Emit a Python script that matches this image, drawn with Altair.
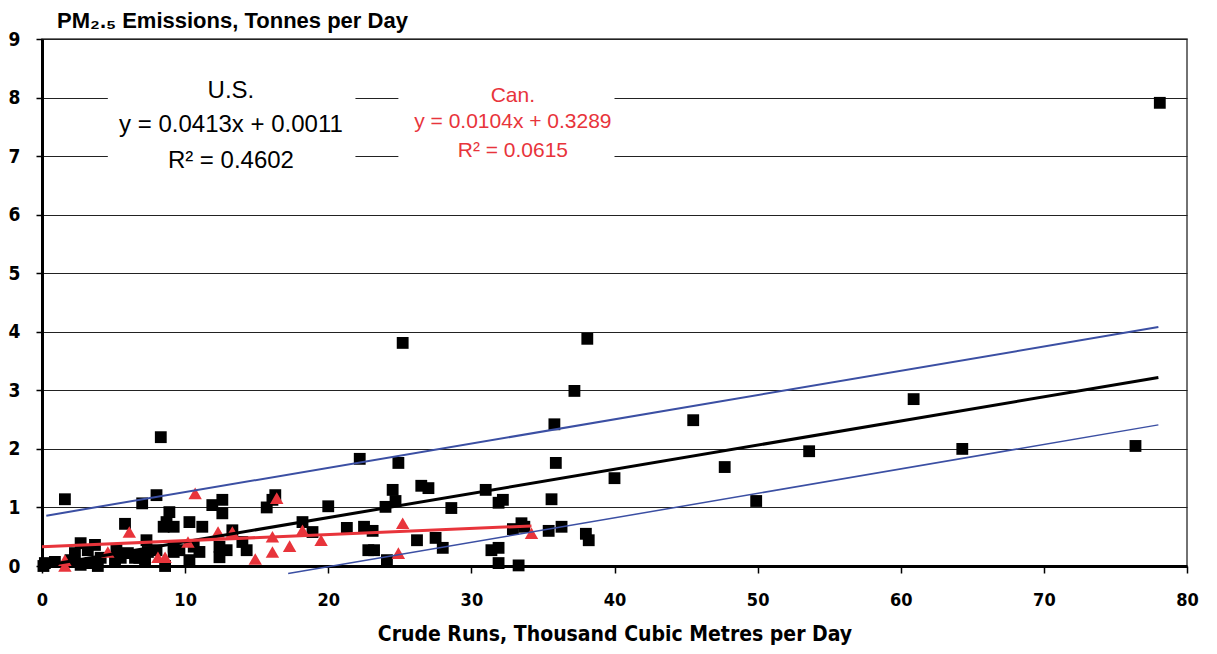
import altair as alt
import pandas as pd

# U.S. refineries (black squares)
us_x = [78.1, 76.4, 64.3, 60.9, 53.6, 49.9, 47.7, 45.5, 40.0, 38.1, 37.2, 35.8, 35.9, 35.6, 36.3, 35.4, 38.0, 38.2,
        25.2, 24.9, 22.2, 20.0, 24.5, 24.7, 24.0, 26.5, 27.0, 28.6, 31.0, 31.9, 32.2, 18.2, 18.9, 21.3, 22.5, 23.1,
        22.8, 23.2, 24.1, 26.2, 27.5, 28.0, 31.4, 31.9, 31.9, 33.3, 32.9, 33.5, 33.7, 8.3, 1.6, 8.0, 7.0, 11.9,
        12.6, 12.6, 16.3, 16.1, 15.7, 8.9, 8.7, 9.2, 8.5, 10.3, 11.2, 13.3, 7.3, 7.4, 9.2, 9.2, 10.6, 11.0, 10.3,
        12.4, 12.4, 12.9, 14.0, 14.3, 8.6, 6.8, 8.0, 5.8, 2.7, 3.7, 5.2, 6.0, 6.7, 0.2, 0.9, 2.0, 2.7, 3.4, 3.9,
        5.1, 2.3, 3.2, 4.1, 5.5, 6.5, 7.2, 0.1, 9.6]
us_y = [7.91, 2.05, 2.00, 2.85, 1.96, 1.11, 1.69, 2.49, 1.50, 3.88, 2.99, 2.42, 1.76, 1.14, 0.67, 0.60, 0.55, 0.44,
        3.81, 1.76, 1.83, 1.02, 1.30, 1.11, 1.01, 1.37, 1.33, 0.99, 1.30, 1.08, 1.13, 0.75, 0.58, 0.65, 0.67, 0.60,
        0.27, 0.27, 0.10, 0.44, 0.48, 0.31, 0.27, 0.31, 0.05, 0.01, 0.63, 0.73, 0.67, 2.20, 1.14, 1.21, 1.07, 1.04,
        1.13, 0.90, 1.21, 1.13, 1.00, 0.92, 0.75, 0.67, 0.67, 0.75, 0.67, 0.61, 0.44, 0.24, 0.33, 0.24, 0.33, 0.24, 0.10,
        0.33, 0.15, 0.27, 0.41, 0.27, 0.00, 0.14, 0.27, 0.72, 0.39, 0.36, 0.27, 0.22, 0.19, 0.05, 0.07, 0.10, 0.02, 0.05, 0.00,
        0.07, 0.22, 0.27, 0.14, 0.14, 0.14, 0.07, 0.00, 0.27]

# Canadian refineries (red triangles)
can_x = [10.7, 16.4, 12.3, 13.3, 10.2, 8.1, 8.6, 14.9, 16.1, 16.1, 17.3, 18.2, 19.5, 25.2, 24.9, 34.2, 6.1, 4.6, 1.6, 1.6]
can_y = [1.24, 1.16, 0.58, 0.58, 0.41, 0.15, 0.15, 0.12, 0.50, 0.24, 0.34, 0.61, 0.44, 0.73, 0.22, 0.56, 0.58, 0.24, 0.10, 0.00]

# Trend lines (end points)
us_fit_x = [0, 78]
us_fit_y = [0.0011, 3.22]
upper_x = [0.3, 78]
upper_y = [0.86, 4.08]
lower_x = [17.2, 78]
lower_y = [-0.13, 2.41]
can_fit_x = [0, 34.2]
can_fit_y = [0.3289, 0.685]

# Annotation text
us_lines = ["U.S.", "y = 0.0413x + 0.0011", "R\u00b2 = 0.4602"]
us_line_y = [8.11, 7.53, 6.92]
can_lines = ["Can.", "y = 0.0104x + 0.3289", "R\u00b2 = 0.0615"]
can_line_y = [8.03, 7.58, 7.09]

RED = "#E8343B"
BLUE = "#3B4FA3"
FONT = "Liberation Sans"
NARROW = "DejaVu Sans Condensed, Liberation Sans, sans-serif"

xs = alt.Scale(domain=[0, 80], nice=False, zero=False)
ys = alt.Scale(domain=[0, 9], nice=False, zero=False)

us_df = pd.DataFrame({"x": us_x, "y": us_y})
can_df = pd.DataFrame({"x": can_x, "y": can_y})


def line_df(xv, yv, name):
    return pd.DataFrame({"x": xv, "y": yv, "s": [name] * len(xv)})


xenc = alt.X("x:Q", scale=xs, axis=alt.Axis(
    values=list(range(0, 81, 10)), format="d", title="Crude Runs, Thousand Cubic Metres per Day",
    grid=False, domainColor="#000", domainWidth=3, tickColor="#000", tickSize=7, tickWidth=1.5,
    labelFont=NARROW, labelFontSize=18, labelFontWeight="bold", labelColor="#000", labelPadding=18,
    labelFlush=False, titleFont=NARROW, titleFontSize=21, titleFontWeight="bold", titleColor="#000",
    titlePadding=14))
yenc = alt.Y("y:Q", scale=ys, axis=alt.Axis(
    values=list(range(0, 10)), format="d", title=None, grid=True, gridColor="#222", gridWidth=1,
    domainColor="#000", domainWidth=3, tickColor="#000", tickSize=6, tickWidth=1.5,
    labelFont=NARROW, labelFontSize=19, labelFontWeight="bold", labelColor="#000", labelPadding=16,
    labelFlush=False))

boxes = pd.DataFrame({"x": [4.6, 24.9], "x2": [21.9, 40.0], "y": [6.6, 6.7], "y2": [8.45, 8.4]})
box_layer = alt.Chart(boxes).mark_rect(color="white").encode(
    x="x:Q", x2="x2:Q", y="y:Q", y2="y2:Q")

sq = alt.Chart(us_df).mark_point(shape="square", filled=True, color="#000", size=140, opacity=1).encode(
    x=xenc, y=yenc)
tri = alt.Chart(can_df).mark_point(shape="triangle-up", filled=True, color=RED, size=180, opacity=1).encode(
    x="x:Q", y="y:Q")

us_line = alt.Chart(line_df(us_fit_x, us_fit_y, "us")).mark_line(color="#000", strokeWidth=3).encode(
    x="x:Q", y="y:Q")
up_line = alt.Chart(line_df(upper_x, upper_y, "up")).mark_line(color=BLUE, strokeWidth=2).encode(
    x="x:Q", y="y:Q")
lo_line = alt.Chart(line_df(lower_x, lower_y, "lo")).mark_line(color=BLUE, strokeWidth=1.5).encode(
    x="x:Q", y="y:Q")
can_line = alt.Chart(line_df(can_fit_x, can_fit_y, "can")).mark_line(color=RED, strokeWidth=3).encode(
    x="x:Q", y="y:Q")

us_txt = pd.DataFrame({"x": [13.2] * 3, "y": us_line_y, "t": us_lines})
can_txt = pd.DataFrame({"x": [32.9] * 3, "y": can_line_y, "t": can_lines})
us_text = alt.Chart(us_txt).mark_text(font=FONT, fontSize=24, color="#000", baseline="middle").encode(
    x="x:Q", y="y:Q", text="t:N")
can_text = alt.Chart(can_txt).mark_text(font=FONT, fontSize=21, color=RED, baseline="middle").encode(
    x="x:Q", y="y:Q", text="t:N")

chart = alt.layer(
    sq, box_layer, tri, us_line, up_line, lo_line, can_line, us_text, can_text
).properties(
    width=1145, height=527,
    autosize=alt.AutoSizeParams(type="none"),
    padding={"left": 34, "top": 31, "right": 22, "bottom": 80},
    title=alt.Title("PM\u2082.\u2085 Emissions, Tonnes per Day", anchor="start",
                    font="Liberation Sans, DejaVu Sans", fontSize=22,
                    fontWeight="bold", color="#000", dx=49, dy=11, offset=8),
).configure_view(stroke="#444", strokeWidth=1.5)

chart.save("out.html", embed_options={"renderer": "svg", "actions": False})
